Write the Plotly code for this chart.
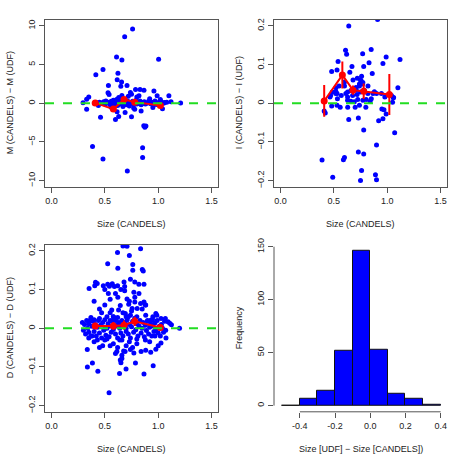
import plotly.graph_objects as go
from plotly.subplots import make_subplots

# --- panel 1: M (CANDELS) - M (UDF) vs size ---
m_size = [0.76, 0.686, 0.61, 0.66, 1.004, 0.416, 0.483, 0.623, 0.616, 0.657, 0.534, 0.708, 0.65,
          0.53, 0.54, 0.788, 0.83, 0.867, 0.96, 0.74, 0.75, 0.82, 0.99, 0.92, 1.10, 0.35, 0.33, 0.296,
          1.21, 1.12, 1.06, 1.02, 0.33, 0.46, 0.615, 0.63, 0.60, 0.69, 0.75, 0.84, 0.78, 0.865, 0.885,
          0.875, 1.04, 0.95, 0.385, 0.854, 0.483, 0.854, 0.711,
          0.42, 0.44, 0.45, 0.47, 0.49, 0.5, 0.51, 0.52, 0.53, 0.55, 0.56, 0.57, 0.58, 0.59, 0.6, 0.61,
          0.62, 0.63, 0.64, 0.64, 0.65, 0.66, 0.67, 0.68, 0.69, 0.7, 0.7, 0.71, 0.72, 0.72, 0.73, 0.74,
          0.75, 0.76, 0.77, 0.78, 0.79, 0.8, 0.81, 0.82, 0.83, 0.84, 0.85, 0.86, 0.87, 0.88, 0.9, 0.91,
          0.93, 0.94, 0.96, 0.97, 0.98, 1.0, 1.01, 1.03, 1.05, 1.08, 0.66, 0.72, 0.8, 0.63, 0.77, 0.56]
m_diff = [9.6, 8.6, 6.0, 5.6, 5.7, 3.7, 4.36, 3.9, 3.05, 2.75, 2.29, 2.29, 2.2,
          1.36, 1.15, 1.78, 1.78, 1.7, 1.6, 1.4, 1.17, 0.97, 0.97, 0.6, 0.97, 0.8, 0.51, 0.08,
          0.04, 0.2, 0.1, 0.5, -0.76, -1.82, -1.1, -1.7, -2.1, -1.2, -1.74, -1.0, -0.76, -2.9, -2.95,
          -3.1, -0.72, -0.55, -5.6, -5.76, -7.2, -7.0, -8.77,
          0.1, -0.3, 0.15, 0.05, 0.2, -0.1, 0.3, 0.0, 0.12, -0.2, 0.25, 0.05, 0.4, -0.15, 0.1, 0.5,
          -0.3, 0.2, 0.0, 0.6, -0.1, 0.3, -0.4, 0.1, 0.45, -0.2, 0.05, 0.3, -0.05, 0.2, -0.35, 0.1,
          0.0, 0.25, -0.15, 0.05, 0.35, -0.1, 0.15, 0.0, 0.3, -0.2, 0.1, 0.0, 0.2, -0.1, 0.05, 0.25,
          -0.05, 0.15, 0.0, 0.3, -0.15, 0.1, -0.1, 0.2, 0.0, 0.15, 1.0, 0.9, 0.8, 0.75, -0.6, -0.5]

# --- panel 2: I (CANDELS) - I (UDF) ---
i_size = [0.64, 0.91, 0.61, 0.62, 0.77, 0.85, 0.99, 1.12, 0.96, 0.54, 0.53, 0.48, 0.67, 0.78, 0.83,
          0.86, 0.76, 0.65, 0.75, 0.77, 0.74, 0.72, 0.52, 0.52, 0.47, 0.48, 0.53, 0.53, 1.1, 1.06, 1.05,
          0.95, 0.97, 0.92, 0.96, 0.99, 1.07, 0.78, 0.64, 0.73, 0.9, 0.73, 0.78, 0.6, 0.59, 0.39, 0.76,
          0.89, 0.49, 0.75, 0.9, 0.41, 0.42,
          0.756, 0.772, 0.74, 0.708, 0.692, 0.66, 0.629, 0.613, 0.629, 0.676, 0.718, 0.75, 0.787, 0.819,
          0.867, 0.9, 0.946, 0.978, 1.04, 1.057, 0.629, 0.692, 0.724, 0.772, 0.803, 0.851, 0.486, 0.518,
          0.464, 0.534, 0.57, 0.6, 0.66, 0.7, 0.74, 0.8, 0.84, 0.88, 0.63, 0.56, 0.68, 0.71, 0.55, 0.82,
          0.6]
i_diff = [0.2, 0.217, 0.137, 0.127, 0.128, 0.139, 0.12, 0.113, 0.103, 0.108, 0.086, 0.082, 0.095,
          0.095, 0.105, 0.077, 0.07, 0.08, 0.06, 0.05, 0.045, 0.065, 0.04, 0.03, 0.02, -0.007, -0.005,
          0.025, 0.04, 0.015, 0.003, -0.015, -0.017, -0.045, -0.04, -0.028, -0.076, -0.069, -0.042,
          -0.038, -0.108, -0.126, -0.131, -0.14, -0.146, -0.147, -0.174, -0.185, -0.191, -0.2, -0.198,
          -0.02, -0.025,
          0.058, 0.054, 0.05, 0.041, 0.037, 0.033, 0.029, 0.025, 0.016, 0.02, 0.023, 0.029, 0.033, 0.025,
          0.025, 0.025, 0.025, 0.016, 0.02, 0.014, 0.008, 0.004, 0.01, 0.008, 0.01, 0.012, 0.029, 0.025,
          0.016, 0.012, 0.02, 0.045, 0.005, -0.01, -0.005, -0.01, 0.005, 0.03, -0.01, -0.01, 0.06, 0.035,
          0.045, 0.045, 0.055]

# --- panel 3: D (CANDELS) - D (UDF) ---
d_size = [0.67, 0.708, 0.835, 0.619, 0.73, 0.527, 0.622, 0.762, 0.762, 0.851, 0.86, 0.74, 0.413,
          0.429, 0.406, 0.486, 0.527, 0.543, 0.59, 0.686, 0.781, 0.819, 0.867, 0.353, 0.4, 0.533,
          0.622, 0.645, 0.686, 0.708, 0.724, 0.772, 0.781, 0.781, 0.803, 0.835, 0.867, 0.883, 0.978,
          0.987, 1.026, 1.067, 1.092, 1.108, 1.124, 0.883, 0.93, 0.946, 0.565, 0.629, 0.692, 0.74,
          0.756, 1.2,
          0.45, 0.47, 0.5, 0.52, 0.55, 0.58, 0.6, 0.62, 0.65, 0.67, 0.7, 0.73, 0.75, 0.8, 0.82, 0.85,
          0.88, 0.9, 0.95, 0.5, 0.55, 0.57, 0.6, 0.68,
          0.336, 0.337, 0.384, 0.435, 0.54, 0.645, 0.651, 0.66, 0.638, 0.699, 0.787, 0.867, 0.953,
          0.613, 0.676, 0.74, 0.772, 0.883, 0.93, 0.978, 1.026, 1.073,
          0.45, 0.48, 0.5, 0.55, 0.58, 0.62, 0.66, 0.7, 0.73, 0.76, 0.8, 0.84, 0.88, 0.92, 0.97, 1.0,
          0.4, 0.38, 0.35, 0.6, 0.69, 0.64,
          0.29, 0.3, 0.31, 0.32, 0.33, 0.34, 0.35, 0.35, 0.36, 0.37, 0.38, 0.39, 0.4, 0.41, 0.42, 0.43,
          0.44, 0.45, 0.46, 0.47, 0.48, 0.49, 0.5, 0.51, 0.52, 0.53, 0.54, 0.55, 0.56, 0.57, 0.58, 0.59,
          0.6, 0.61, 0.62, 0.63, 0.64, 0.65, 0.66, 0.67, 0.68, 0.69, 0.7, 0.71, 0.72, 0.73, 0.74, 0.75,
          0.76, 0.77, 0.78, 0.79, 0.8, 0.81, 0.82, 0.83, 0.84, 0.85, 0.86, 0.87, 0.88, 0.89, 0.9, 0.91,
          0.92, 0.93, 0.94, 0.95, 0.96, 0.97, 0.98, 0.99, 1.0, 1.01, 1.02, 1.03, 1.04, 1.05, 1.06, 1.07,
          0.5, 0.55, 0.6, 0.65, 0.7, 0.45, 0.4, 0.58, 0.62, 0.52, 0.66, 0.72, 0.8, 0.43, 0.37]
d_diff = [0.213, 0.212, 0.206, 0.196, 0.188, 0.167, 0.155, 0.165, 0.15, 0.152, 0.148, 0.127, 0.119,
          0.116, 0.11, 0.11, 0.114, 0.109, 0.108, 0.108, 0.12, 0.114, 0.114, 0.103, 0.07, 0.09,
          0.08, 0.059, 0.097, 0.076, 0.062, 0.093, 0.08, 0.068, 0.051, 0.064, 0.068, 0.06, 0.038,
          0.034, 0.025, 0.025, 0.017, 0.013, 0.009, 0.034, 0.021, 0.023, 0.047, 0.047, 0.038, 0.034,
          0.051, 0.0,
          0.05, 0.04, 0.06, 0.03, 0.04, 0.03, 0.02, 0.11, 0.1, 0.04, 0.03, 0.07, 0.045, 0.03, 0.09, 0.05,
          0.06, 0.02, 0.03, 0.1, 0.075, 0.115, 0.09, 0.12,
          -0.055, -0.1, -0.09, -0.111, -0.167, -0.082, -0.089, -0.078, -0.117, -0.105, -0.09, -0.118,
          -0.097, -0.06, -0.059, -0.055, -0.064, -0.057, -0.062, -0.054, -0.038, -0.025,
          -0.05, -0.045, -0.03, -0.045, -0.04, -0.05, -0.07, -0.045, -0.035, -0.05, -0.04, -0.06, -0.03,
          -0.035, -0.02, -0.045, -0.035, -0.02, -0.025, -0.065, -0.06, -0.03,
          0.015, -0.005, 0.01, -0.015, 0.02, 0.0, 0.012, -0.01, 0.02, -0.02, 0.005, 0.018, -0.008, 0.01,
          -0.02, 0.003, 0.02, -0.012, 0.008, -0.025, 0.015, -0.005, 0.022, -0.018, 0.0, 0.012, -0.022,
          0.006, -0.01, 0.018, -0.003, 0.025, -0.015, 0.008, -0.025, 0.015, 0.0, -0.012, 0.02, -0.02,
          0.005, 0.015, -0.008, 0.022, -0.015, 0.01, -0.025, 0.004, 0.018, -0.01, 0.026, -0.004, 0.012,
          -0.02, 0.006, 0.02, -0.012, 0.0, 0.015, -0.022, 0.008, -0.006, 0.018, -0.015, 0.003, 0.012,
          -0.02, 0.006, -0.008, 0.014, -0.003, 0.02, -0.012, 0.005, -0.02, 0.01, 0.0, -0.01, 0.018,
          -0.005, 0.0, 0.02, 0.005, 0.01, 0.0, 0.025, 0.022, 0.03, 0.028, -0.028, -0.03, 0.03, -0.028,
          -0.03, 0.028]

# binned means (red)
bin_size = [0.41, 0.58, 0.68, 0.78, 1.02]
m_mean = [0.05, -0.75, 0.5, 0.15, -0.28]
m_err = [0.2, 0.2, 0.15, 0.15, 0.2]
i_mean = [0.006, 0.073, 0.034, 0.031, 0.023]
i_err = [0.041, 0.035, 0.012, 0.02, 0.053]
d_mean = [0.006, 0.006, 0.008, 0.018, 0.002]
d_err = [0.008, 0.01, 0.012, 0.012, 0.008]

# histogram of size difference
hist_centers = [-0.45, -0.35, -0.25, -0.15, -0.05, 0.05, 0.15, 0.25, 0.35]
hist_counts = [0, 6, 14, 52, 146, 53, 11, 6, 1]

FONT = "Liberation Sans, Arial, sans-serif"
W = H = 458
AXC = "#555"

fig = make_subplots(rows=2, cols=2)

panels = [
    (1, 1, m_size, m_diff, m_mean, m_err, "M (CANDELS) \u2212 M (UDF)", [-10.8, 10.8], [-10, -5, 0, 5, 10]),
    (1, 2, i_size, i_diff, i_mean, i_err, "I (CANDELS) \u2212 I (UDF)", [-0.216, 0.216], [-0.2, -0.1, 0, 0.1, 0.2]),
    (2, 1, d_size, d_diff, d_mean, d_err, "D (CANDELS) \u2212 D (UDF)", [-0.216, 0.216], [-0.2, -0.1, 0, 0.1, 0.2]),
]

# plot-region boxes in pixels (left, right, top, bottom)
boxes = {(1, 1): (45, 218, 13, 183), (1, 2): (274, 447, 13, 183),
         (2, 1): (45, 218, 242, 412), (2, 2): (274, 447, 242, 412)}

annotations = []
shapes = []
for r, c, xs, ys, mean, err, ylab, yr, yt in panels:
    fig.add_trace(go.Scatter(x=xs, y=ys, mode="markers",
                             marker=dict(color="#0000ff", size=5), showlegend=False), row=r, col=c)
    fig.add_trace(go.Scatter(x=bin_size, y=mean, mode="lines+markers",
                             line=dict(color="#ff0000", width=2),
                             marker=dict(color="#ff0000", size=7),
                             error_y=dict(type="data", array=err, color="#ff0000", thickness=2, width=0),
                             showlegend=False), row=r, col=c)
    idx = (r - 1) * 2 + c
    sfx = "" if idx == 1 else str(idx)
    shapes.append(dict(type="line", xref=f"x{sfx} domain", yref=f"y{sfx}", x0=0, x1=1, y0=0, y1=0,
                       line=dict(color="#22dd22", width=2, dash="dash")))

fig.add_trace(go.Bar(x=hist_centers, y=hist_counts, width=0.1,
                     marker=dict(color="#0000ff", line=dict(color="#111111", width=1)),
                     showlegend=False), row=2, col=2)

ax_common = dict(showgrid=False, zeroline=False, ticks="outside", ticklen=5, tickcolor=AXC,
                 tickfont=dict(family=FONT, size=9, color="#222"))

for r, c, xs, ys, mean, err, ylab, yr, yt in panels:
    fig.update_xaxes(range=[-0.06, 1.56], tickvals=[0, 0.5, 1.0, 1.5],
                     ticktext=["0.0", "0.5", "1.0", "1.5"], showline=True, mirror=True,
                     linecolor=AXC, linewidth=1, ticklabelstandoff=0, **ax_common, row=r, col=c)
    fig.update_yaxes(range=yr, tickvals=yt, tickangle=-90, showline=True, mirror=True,
                     linecolor=AXC, linewidth=1, ticklabelstandoff=0, **ax_common, row=r, col=c)

fig.update_xaxes(range=[-0.547, 0.436], tickvals=[-0.4, -0.2, 0, 0.2, 0.4],
                 ticktext=["-0.4", "-0.2", "0.0", "0.2", "0.4"], showline=False,
                 ticklabelstandoff=0, **ax_common, row=2, col=2)
fig.update_yaxes(range=[-5.84, 151.84], tickvals=[0, 50, 100, 150], tickangle=-90, showline=False,
                 ticklabelstandoff=0, **ax_common, row=2, col=2)
# R-style axis lines spanning only the tick range
shapes.append(dict(type="line", xref="x4", yref="y4 domain", x0=-0.4, x1=0.4, y0=0, y1=0,
                   line=dict(color=AXC, width=1)))
shapes.append(dict(type="line", xref="x4 domain", yref="y4", x0=0, x1=0, y0=0, y1=150,
                   line=dict(color=AXC, width=1)))

# domains and axis titles
ylabels = {(1, 1): panels[0][6], (1, 2): panels[1][6], (2, 1): panels[2][6], (2, 2): "Frequency"}
xlabels = {(1, 1): "Size (CANDELS)", (1, 2): "Size (CANDELS)", (2, 1): "Size (CANDELS)",
           (2, 2): "Size [UDF] \u2212 Size [CANDELS])"}
for (r, c), (x0, x1, y0, y1) in boxes.items():
    fig.update_xaxes(domain=[x0 / W, x1 / W], row=r, col=c)
    fig.update_yaxes(domain=[1 - y1 / H, 1 - y0 / H], row=r, col=c)
    annotations.append(dict(text=xlabels[(r, c)], xref="paper", yref="paper",
                            x=(x0 + x1) / 2 / W, y=1 - (y1 + 38) / H, showarrow=False,
                            xanchor="center", yanchor="middle",
                            font=dict(family=FONT, size=9, color="#222")))
    annotations.append(dict(text=ylabels[(r, c)], xref="paper", yref="paper",
                            x=(x0 - 35) / W, y=1 - (y0 + y1) / 2 / H, showarrow=False, textangle=-90,
                            xanchor="center", yanchor="middle",
                            font=dict(family=FONT, size=9, color="#222")))

fig.update_layout(width=W, height=H, margin=dict(l=0, r=0, t=0, b=0), autosize=False,
                  plot_bgcolor="white", paper_bgcolor="white", bargap=0,
                  shapes=shapes, annotations=annotations)

fig.write_html("out.html", config={"displayModeBar": False},
               post_script="document.body.style.margin='0';")
